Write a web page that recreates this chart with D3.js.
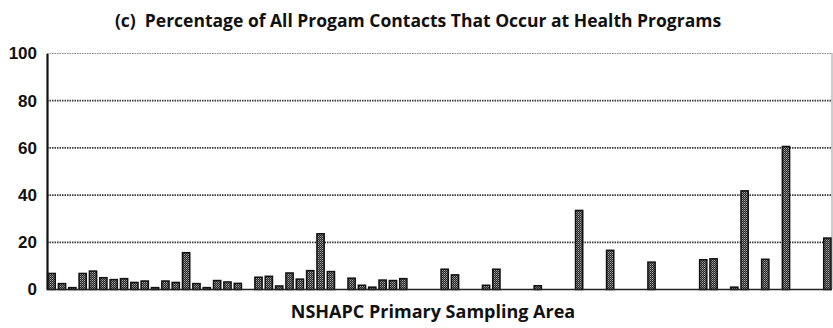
<!DOCTYPE html>
<html>
<head>
<meta charset="utf-8">
<script src="https://cdn.jsdelivr.net/npm/d3@7"></script>
<style>
  html, body { margin: 0; padding: 0; background: #fff; }
  svg { display: block; }
</style>
</head>
<body>
<svg id="chart" width="833" height="328"></svg>
<script>
// Share of all program contacts that occur at health programs, by NSHAPC primary sampling area
const areas = d3.range(76);
const healthShare = [
  6.8, 2.5, 0.8, 6.8, 7.8, 5.0, 4.2, 4.6, 3.0, 3.6,
  0.8, 3.6, 3.0, 15.6, 2.5, 0.8, 3.8, 3.2, 2.6, 0,
  5.2, 5.6, 1.5, 7.0, 4.4, 8.0, 23.6, 7.6, 0, 4.8,
  1.8, 1.0, 4.0, 3.8, 4.6, 0, 0, 0, 8.6, 6.2,
  0, 0, 1.8, 8.6, 0, 0, 0, 1.6, 0, 0,
  0, 33.5, 0, 0, 16.6, 0, 0, 0, 11.6, 0,
  0, 0, 0, 12.6, 13.0, 0, 1.0, 41.8, 0, 12.8,
  0, 60.6, 0, 0, 0, 21.8
];
const yTicks = [0, 20, 40, 60, 80, 100];
const titleText = "(c)  Percentage of All Progam Contacts That Occur at Health Programs";
const xTitle = "NSHAPC Primary Sampling Area";

const svg = d3.select("#chart");
const plotLeft = 47, plotRight = 832, plotTop = 53.5, plotBottom = 289.5;

const x = d3.scaleBand().domain(areas).range([plotLeft, plotRight]).paddingInner(0.3).paddingOuter(0.1);
const y = d3.scaleLinear().domain([0, 100]).range([plotBottom, plotTop]);

// grainy halftone fill for the bars
const defs = svg.append("defs");
const pat = defs.append("pattern").attr("id", "grain")
  .attr("width", 2).attr("height", 2).attr("patternUnits", "userSpaceOnUse");
pat.append("rect").attr("width", 2).attr("height", 2).attr("fill", "#262626");
pat.append("rect").attr("width", 1).attr("height", 1).attr("fill", "#a8a8a8");
pat.append("rect").attr("x", 1).attr("y", 1).attr("width", 1).attr("height", 1).attr("fill", "#707070");

// title
svg.append("text")
  .attr("x", 418).attr("y", 27)
  .attr("text-anchor", "middle")
  .style("font-family", "'Liberation Sans Narrow', 'Open Sans', sans-serif")
  .style("font-weight", "bold")
  .style("font-size", "17.5px")
  .style("white-space", "pre")
  .attr("fill", "#111")
  .text(titleText);

// horizontal gridlines
svg.append("g").selectAll("line")
  .data(yTicks.filter(d => d > 0))
  .join("line")
  .attr("x1", plotLeft).attr("x2", plotRight)
  .attr("y1", d => y(d)).attr("y2", d => y(d))
  .attr("stroke", d => d === 100 ? "#888" : "#3a3a3a")
  .attr("stroke-width", d => d === 100 ? 1.2 : 1.8)
  .attr("stroke-dasharray", "1.5,1");

// right border
svg.append("line")
  .attr("x1", plotRight).attr("x2", plotRight).attr("y1", plotTop).attr("y2", plotBottom)
  .attr("stroke", "#555").attr("stroke-width", 1.2).attr("stroke-dasharray", "1,1");

// y axis with labels
const yAxis = svg.append("g")
  .attr("transform", `translate(${plotLeft},0)`)
  .call(d3.axisLeft(y).tickValues(yTicks).tickSize(0).tickPadding(10));
yAxis.select(".domain").attr("stroke", "#111").attr("stroke-width", 2.2);
yAxis.selectAll("text")
  .style("font-family", "'Liberation Sans', Arial, sans-serif")
  .style("font-weight", "bold")
  .style("font-size", "17px")
  .attr("fill", "#111");

// bars
svg.append("g").selectAll("rect")
  .data(areas.filter(i => healthShare[i] > 0))
  .join("rect")
  .attr("x", i => x(i))
  .attr("width", x.bandwidth())
  .attr("y", i => y(healthShare[i]))
  .attr("height", i => y(0) - y(healthShare[i]))
  .attr("fill", "url(#grain)")
  .attr("stroke", "#111")
  .attr("stroke-width", 1.5);

// baseline
svg.append("line")
  .attr("x1", plotLeft).attr("x2", plotRight).attr("y1", y(0)).attr("y2", y(0))
  .attr("stroke", "#222").attr("stroke-width", 1.6);

// x axis title
svg.append("text")
  .attr("x", 433).attr("y", 318)
  .attr("text-anchor", "middle")
  .style("font-family", "'Liberation Sans Narrow', 'Open Sans', sans-serif")
  .style("font-weight", "bold")
  .style("font-size", "18px")
  .attr("fill", "#111")
  .text(xTitle);
</script>
</body>
</html>
